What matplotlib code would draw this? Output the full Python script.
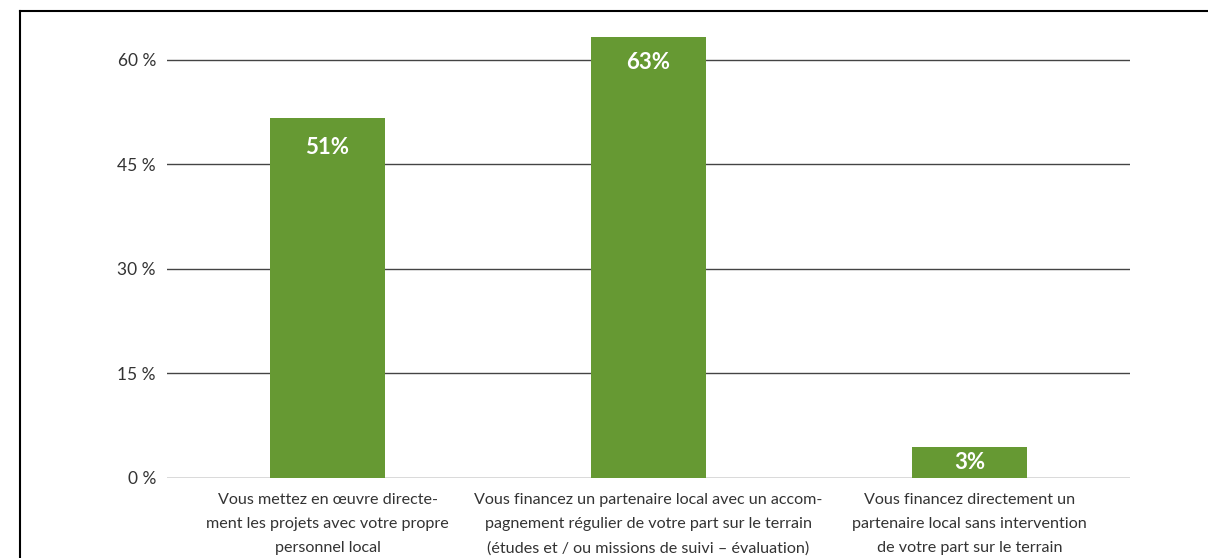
import matplotlib
matplotlib.use("Agg")
import matplotlib.pyplot as plt
from matplotlib.lines import Line2D

# ---- data ----
categories = [
    "Vous mettez en œuvre directe-\nment les projets avec votre propre\npersonnel local",
    "Vous financez un partenaire local avec un accom-\npagnement régulier de votre part sur le terrain\n(études et / ou missions de suivi – évaluation)",
    "Vous financez directement un\npartenaire local sans intervention\nde votre part sur le terrain",
]
values = [51.7, 63.3, 4.4]
value_labels = ["51%", "63%", "3%"]
yticks = [0, 15, 30, 45, 60]
ytick_labels = ["0 %", "15 %", "30 %", "45 %", "60 %"]

# ---- style ----
plt.rcParams['font.family'] = ['Lato', 'DejaVu Sans']
bar_color = "#669933"
text_color = "#333333"
grid_color = "#444444"
label_offsets_px = [30, 25, 16]

W, H = 1208, 558
fig = plt.figure(figsize=(W / 100, H / 100), dpi=100)
fig.patch.set_facecolor("white")

x0, x1 = 167, 1130
y0 = 477.5
ppu = (477.5 - 60) / 60.0
ymax = 65
top_px = y0 - ymax * ppu
ax = fig.add_axes([x0 / W, (H - y0) / H, (x1 - x0) / W, (y0 - top_px) / H])

xs = list(range(len(categories)))
ax.set_ylim(0, ymax)
ax.set_xlim(-0.5, len(categories) - 0.5)
ax.set_yticks(yticks)
ax.set_yticklabels(ytick_labels, color=text_color, fontsize=12.5)
for y in yticks:
    ax.axhline(y, color=grid_color, lw=1.0, zorder=1)

ax.bar(xs, values, width=0.36, color=bar_color, zorder=2)

for x, v, lab, off in zip(xs, values, value_labels, label_offsets_px):
    ax.annotate(lab, (x, v), xytext=(0, -off * 0.72), textcoords="offset points",
                ha="center", va="center", color="white", fontsize=16,
                fontweight="bold", zorder=3)

ax.set_xticks(xs)
ax.set_xticklabels(categories, color=text_color, fontsize=11.6, linespacing=1.9)
ax.tick_params(axis="x", length=0, pad=11)
ax.tick_params(axis="y", length=0, pad=8)
for s in ax.spines.values():
    s.set_visible(False)

# frame lines
fig.add_artist(Line2D([20 / W, 1], [1 - 11 / H, 1 - 11 / H], color="black", lw=1.5,
                      transform=fig.transFigure))
fig.add_artist(Line2D([20 / W, 20 / W], [0, 1 - 11 / H], color="black", lw=1.5,
                      transform=fig.transFigure))

fig.savefig("out.png", dpi=100, facecolor="white")
